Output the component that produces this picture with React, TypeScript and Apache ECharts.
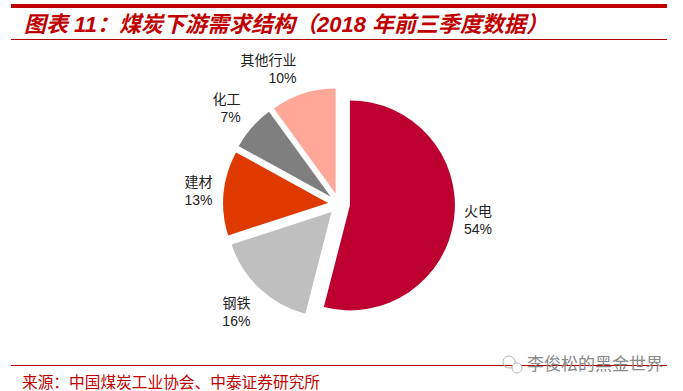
import React, { useEffect, useRef } from "react";
import * as echarts from "echarts";

const categories = ["火电", "钢铁", "建材", "化工", "其他行业"];
const values = [54, 16, 13, 7, 10];
const colors = ["#BE0030", "#BFBFBF", "#DE3A00", "#7F7F7F", "#FFA899"];
const titleText = "图表 11：煤炭下游需求结构（2018 年前三季度数据）";
const sourceText = "来源：中国煤炭工业协会、中泰证券研究所";
const watermarkText = "李俊松的黑金世界";
const FONT = '"Liberation Sans","Noto Sans CJK SC",sans-serif';
const labelNudgeX = [-7, 4, 1, 2, 2];
const labelNudgeY = [0, 15, -1, -15, -13];

export default function App() {
  const ref = useRef<HTMLDivElement>(null);
  useEffect(() => {
    document.body.style.margin = "0";
    const chart = echarts.init(ref.current!, undefined, { renderer: "svg" });
    chart.setOption({
      animation: false,
      backgroundColor: "#FFFFFF",
      series: [
        {
          type: "pie",
          center: [339, 204],
          radius: [0, 105],
          startAngle: 90,
          clockwise: true,
          selectedMode: "multiple",
          selectedOffset: 11,
          label: {
            show: true,
            position: "outside",
            formatter: "{b}\n{c}%",
            color: "#222222",
            fontFamily: FONT,
            fontSize: 14,
            lineHeight: 18,
            align: "center",
          },
          labelLine: { show: false, length: 12, length2: 0 },
          labelLayout: (p: any) => ({
            hideOverlap: false,
            dx: labelNudgeX[p.dataIndex],
            dy: labelNudgeY[p.dataIndex],
          }),
          itemStyle: { borderWidth: 0 },
          data: categories.map((name, i) => ({
            name,
            value: values[i],
            selected: true,
            itemStyle: { color: colors[i] },
          })),
        },
      ],
      graphic: [
        { type: "rect", shape: { x: 11, y: 4, width: 656, height: 4 }, style: { fill: "#C00000" } },
        { type: "rect", shape: { x: 11, y: 39, width: 656, height: 1 }, style: { fill: "#B00000" } },
        { type: "rect", shape: { x: 11, y: 365, width: 656, height: 1 }, style: { fill: "#B00000" } },
        {
          type: "text",
          x: 24,
          y: 24,
          style: {
            text: titleText,
            fill: "#C00000",
            font: `italic bold 22px ${FONT}`,
            verticalAlign: "middle",
          },
        },
        {
          type: "text",
          x: 22,
          y: 382,
          style: {
            text: sourceText,
            fill: "#C00000",
            font: `15.7px ${FONT}`,
            verticalAlign: "middle",
          },
        },
        { type: "circle", shape: { cx: 509, cy: 362, r: 6 }, style: { fill: "none", stroke: "#B5B5B5", lineWidth: 1 } },
        { type: "circle", shape: { cx: 517, cy: 368, r: 5 }, style: { fill: "#FFFFFF", stroke: "#B5B5B5", lineWidth: 1 } },
        {
          type: "text",
          x: 527,
          y: 364,
          style: {
            text: watermarkText,
            fill: "#8A8A8A",
            font: `17px ${FONT}`,
            verticalAlign: "middle",
          },
        },
      ],
    });
    return () => chart.dispose();
  }, []);
  return <div ref={ref} style={{ width: 683, height: 391 }} />;
}
